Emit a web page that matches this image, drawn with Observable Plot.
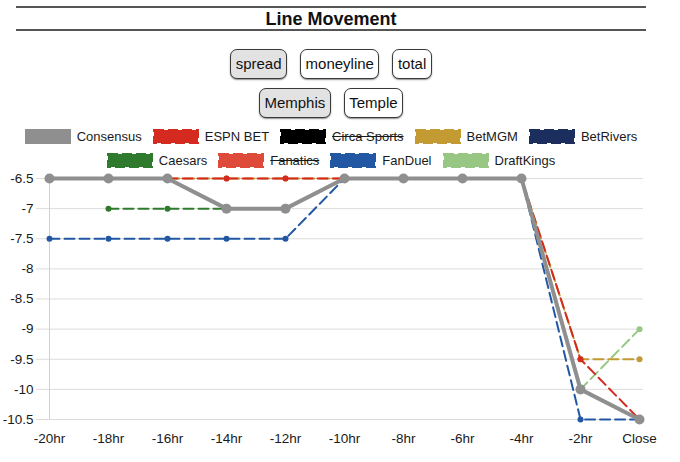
<!DOCTYPE html>
<html>
<head>
<meta charset="utf-8">
<script src="https://cdn.jsdelivr.net/npm/d3@7"></script>
<script src="https://cdn.jsdelivr.net/npm/@observablehq/plot@0.6"></script>
<style>
  body { margin: 0; background: #fff; font-family: "Liberation Sans", Arial, Helvetica, sans-serif; color: #1a1a1a; }
  #wrap { position: relative; width: 680px; height: 462px; overflow: hidden; }
  #title { position: absolute; left: 16px; width: 630px; top: 6px; height: 21px; border-top: 2px solid #555; border-bottom: 2px solid #555;
           text-align: center; font-weight: bold; font-size: 18px; line-height: 23px; color: #111; }
  .row { position: absolute; left: 0; width: 662px; display: flex; justify-content: center; gap: 13px; }
  .btn { box-sizing: border-box; height: 30px; border: 1.5px solid #3a3a3a; border-radius: 7px; padding: 0 4.5px; font-size: 15px;
         line-height: 27px; background: #fff; color: #111; box-shadow: 0 1px 1.5px rgba(0,0,0,0.45); }
  .btn.sel { background: #e2e2e2; }
  .legrow { position: absolute; left: 0; width: 662px; display: flex; justify-content: center; height: 15px; font-size: 13px; line-height: 15px; }
  .item { display: flex; align-items: center; margin: 0 5.5px; white-space: nowrap; }
  .item svg { margin-right: 6px; display: block; }
  .item.off span { text-decoration: line-through; }
  #chart { position: absolute; left: 0; top: 170px; }
</style>
</head>
<body>
<div id="wrap">
  <div id="title"></div>
  <div class="row" id="row1" style="top:49px"></div>
  <div class="row" id="row2" style="top:88px"></div>
  <div class="legrow" id="leg1" style="top:129px"></div>
  <div class="legrow" id="leg2" style="top:153px"></div>
  <div id="chart"></div>
</div>
<script>
const titleText = "Line Movement";
const marketButtons = ["spread", "moneyline", "total"];
const selectedMarket = "spread";
const teamButtons = ["Memphis", "Temple"];
const selectedTeam = "Memphis";

const xLabels = ["-20hr", "-18hr", "-16hr", "-14hr", "-12hr", "-10hr", "-8hr", "-6hr", "-4hr", "-2hr", "Close"];
const yTicks = [-6.5, -7, -7.5, -8, -8.5, -9, -9.5, -10, -10.5];
const yTickLabels = ["-6.5", "-7", "-7.5", "-8", "-8.5", "-9", "-9.5", "-10", "-10.5"];

const consensus   = [-6.5, -6.5, -6.5, -7, -7, -6.5, -6.5, -6.5, -6.5, -10, -10.5];
const espnBet     = [null, null, -6.5, -6.5, -6.5, -6.5, -6.5, -6.5, -6.5, -9.5, -10.5];
const circaSports = [null, null, null, null, null, null, null, null, null, null, null];
const betMGM      = [-6.5, -6.5, -6.5, -6.5, -6.5, -6.5, -6.5, -6.5, -6.5, -9.5, -9.5];
const betRivers   = [-6.5, -6.5, -6.5, -7, -7, -6.5, -6.5, -6.5, -6.5, -10, -10.5];
const caesars     = [null, -7, -7, -7, -7, -6.5, -6.5, -6.5, -6.5, -10, -10.5];
const fanatics    = [null, null, null, null, null, null, null, null, null, null, null];
const fanDuel     = [-7.5, -7.5, -7.5, -7.5, -7.5, -6.5, -6.5, -6.5, -6.5, -10.5, -10.5];
const draftKings  = [-6.5, -6.5, -6.5, -7, -7, -6.5, -6.5, -6.5, -6.5, -10, -9];

const seriesNames  = ["Consensus", "ESPN BET", "Circa Sports", "BetMGM", "BetRivers", "Caesars", "Fanatics", "FanDuel", "DraftKings"];
const seriesColors = ["#8f8f8f", "#d42a1f", "#000000", "#c49b33", "#1c2e5e", "#2f7a2d", "#df4b3b", "#2257a3", "#98c783"];
const seriesValues = [consensus, espnBet, circaSports, betMGM, betRivers, caesars, fanatics, fanDuel, draftKings];
const hiddenSeries = ["Circa Sports", "Fanatics"];
const legendRow1 = 5;

// Header
document.getElementById("title").textContent = titleText;
function buttons(el, list, sel) {
  list.forEach(b => {
    const d = document.createElement("div");
    d.className = "btn" + (b === sel ? " sel" : "");
    d.textContent = b;
    el.appendChild(d);
  });
}
buttons(document.getElementById("row1"), marketButtons, selectedMarket);
buttons(document.getElementById("row2"), teamButtons, selectedTeam);

// Legend
const svgNS = "http://www.w3.org/2000/svg";
seriesNames.forEach((name, i) => {
  const item = document.createElement("div");
  item.className = "item" + (hiddenSeries.includes(name) ? " off" : "");
  const sw = document.createElementNS(svgNS, "svg");
  sw.setAttribute("width", 46); sw.setAttribute("height", 15);
  const r = document.createElementNS(svgNS, "rect");
  r.setAttribute("x", 1); r.setAttribute("y", 1);
  r.setAttribute("width", 44); r.setAttribute("height", 13);
  r.setAttribute("fill", seriesColors[i]);
  r.setAttribute("stroke", seriesColors[i]);
  r.setAttribute("stroke-width", 2);
  if (i > 0) r.setAttribute("stroke-dasharray", "10,4");
  sw.appendChild(r);
  item.appendChild(sw);
  const t = document.createElement("span");
  t.textContent = name;
  item.appendChild(t);
  document.getElementById(i < legendRow1 ? "leg1" : "leg2").appendChild(item);
});

// Chart marks, drawn last series first so Consensus ends on top
const marks = [
  Plot.gridY(yTicks, {stroke: "#dcdcdc", strokeOpacity: 1}),
  Plot.ruleX([xLabels[0]], {stroke: "#cfcfcf"}),
  Plot.axisY(yTicks, {tickSize: 9, tickPadding: 3, stroke: "#dcdcdc", strokeOpacity: 1, fill: "#1a1a1a",
    tickFormat: d => yTickLabels[yTicks.indexOf(d)], label: null}),
  Plot.axisX({tickSize: 0, tickPadding: 14, fill: "#1a1a1a", label: null})
];
for (let i = seriesNames.length - 1; i >= 0; i--) {
  if (hiddenSeries.includes(seriesNames[i])) continue;
  const data = xLabels.map((x, j) => ({x, y: seriesValues[i][j]})).filter(d => d.y != null);
  const main = i === 0;
  marks.push(Plot.line(data, {x: "x", y: "y", stroke: seriesColors[i], strokeWidth: main ? 4 : 2,
    strokeDasharray: main ? null : "10,5", strokeLinejoin: "round"}));
  marks.push(Plot.dot(data, {x: "x", y: "y", r: main ? 5 : 3, fill: seriesColors[i], stroke: "none"}));
}

const chart = Plot.plot({
  width: 680,
  height: 292,
  marginLeft: 45,
  marginRight: 37,
  marginTop: 8,
  marginBottom: 43,
  style: {fontFamily: "'Liberation Sans', Arial, sans-serif", fontSize: "13.5px", color: "#1a1a1a", background: "transparent"},
  x: {type: "point", domain: xLabels, padding: 0},
  y: {domain: [-10.5, -6.5]},
  marks
});
document.getElementById("chart").appendChild(chart);
</script>
</body>
</html>
